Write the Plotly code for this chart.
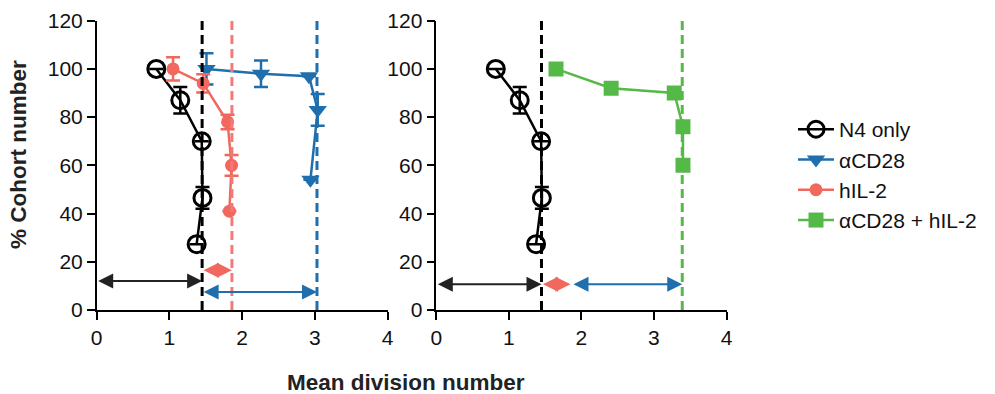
import plotly.graph_objects as go

# ---------------- data ----------------
x_ticks = [0, 1, 2, 3, 4]
y_ticks = [0, 20, 40, 60, 80, 100, 120]

n4_x = [0.82, 1.15, 1.445, 1.455, 1.375]
n4_y = [100, 87, 70, 46.5, 27.3]
n4_err = [None, 5.5, None, 4.5, None]

cd28_x = [1.51, 2.26, 2.92, 3.04, 2.94]
cd28_y = [100, 98, 97, 83, 54]
cd28_err = [6.5, 5.5, None, 6.6, None]

il2_x = [1.05, 1.465, 1.80, 1.855, 1.825]
il2_y = [100, 94, 78, 60, 41]
il2_err = [4.8, 3.8, 3.0, 4.3, None]

combo_x = [1.65, 2.41, 3.28, 3.40, 3.40]
combo_y = [100, 92, 90, 76, 60]

# mean division numbers (dashed lines)
md_n4 = 1.45
md_il2 = 1.86
md_cd28 = 3.03
md_combo = 3.39
md_combo_split = 1.87  # start of blue arrow in right panel

# arrow heights
arrow_y_left = [12, 16.5, 7.5]   # black, pink, blue
arrow_y_right = 10.7

# ---------------- style ----------------
BLACK = "#000000"
BLUE = "#1f6eae"
PINK = "#f0685e"
PINK_LINE = "#f47a7a"
GREEN = "#55b947"
FONT = "Liberation Sans, Arial, Helvetica, sans-serif"

fig = go.Figure()

def err(arr, color):
    return dict(type="data", array=arr, visible=True, color=color,
                thickness=2.5, width=7)

fig.add_trace(go.Scatter(
    x=n4_x, y=n4_y, mode="lines+markers", name="N4 only",
    line=dict(color=BLACK, width=2.5),
    marker=dict(symbol="circle-open", size=17, color=BLACK,
                line=dict(width=3, color=BLACK)),
    error_y=err(n4_err, BLACK), xaxis="x", yaxis="y"))

fig.add_trace(go.Scatter(
    x=cd28_x, y=cd28_y, mode="lines+markers", name="αCD28",
    line=dict(color=BLUE, width=2.5),
    marker=dict(symbol="triangle-down", size=16, color=BLUE),
    error_y=err(cd28_err, BLUE), xaxis="x", yaxis="y"))

fig.add_trace(go.Scatter(
    x=il2_x, y=il2_y, mode="lines+markers", name="hIL-2",
    line=dict(color=PINK, width=2.5),
    marker=dict(symbol="circle", size=13, color=PINK),
    error_y=err(il2_err, PINK), xaxis="x", yaxis="y"))

fig.add_trace(go.Scatter(
    x=n4_x, y=n4_y, mode="lines+markers", name="N4 only",
    showlegend=False,
    line=dict(color=BLACK, width=2.5),
    marker=dict(symbol="circle-open", size=17, color=BLACK,
                line=dict(width=3, color=BLACK)),
    error_y=err(n4_err, BLACK), xaxis="x2", yaxis="y2"))

fig.add_trace(go.Scatter(
    x=combo_x, y=combo_y, mode="lines+markers", name="αCD28 + hIL-2",
    line=dict(color=GREEN, width=2.5),
    marker=dict(symbol="square", size=15, color=GREEN),
    xaxis="x2", yaxis="y2"))

# dashed vertical lines
shapes = []
for xr, yr, xv, col in [("x", "y", md_n4, BLACK), ("x", "y", md_il2, PINK_LINE),
                        ("x", "y", md_cd28, BLUE), ("x2", "y2", md_n4, BLACK),
                        ("x2", "y2", md_combo, GREEN)]:
    shapes.append(dict(type="line", xref=xr, yref=yr, x0=xv, x1=xv, y0=0, y1=120,
                       line=dict(color=col, width=3, dash="9px,5px")))

# double-headed arrows
annotations = []
def arrow(xr, yr, x0, x1, y, col):
    annotations.append(dict(xref=xr, yref=yr, axref=xr, ayref=yr,
                            x=x1, y=y, ax=x0, ay=y, text="", showarrow=True,
                            arrowhead=2, startarrowhead=2, arrowside="end+start",
                            arrowsize=1.5, startarrowsize=1.5, arrowwidth=2,
                            arrowcolor=col, standoff=0, startstandoff=0))

arrow("x", "y", 0, md_n4, arrow_y_left[0], "#222222")
arrow("x", "y", md_n4, md_il2, arrow_y_left[1], PINK)
arrow("x", "y", md_n4, md_cd28, arrow_y_left[2], BLUE)
arrow("x2", "y2", 0, md_n4, arrow_y_right, "#222222")
arrow("x2", "y2", md_n4, md_il2 - 0.01, arrow_y_right, PINK)
arrow("x2", "y2", md_combo_split, md_combo, arrow_y_right, BLUE)

# axis titles
annotations.append(dict(xref="paper", yref="paper", x=18 / 995, y=(394 - 155) / 394,
                        text="<b>% Cohort number</b>", textangle=-90, showarrow=False,
                        font=dict(size=22.5, family=FONT, color="#222222"),
                        xanchor="center", yanchor="middle"))
annotations.append(dict(xref="paper", yref="paper", x=406 / 995, y=(394 - 382) / 394,
                        text="<b>Mean division number</b>", showarrow=False,
                        font=dict(size=22.5, family=FONT, color="#222222"),
                        xanchor="center", yanchor="middle"))

axis_common = dict(showline=True, linecolor=BLACK, linewidth=1.5, ticks="outside",
                   ticklen=8, tickwidth=1.5, tickcolor=BLACK, showgrid=False,
                   zeroline=False, automargin=False,
                   tickfont=dict(size=21, family=FONT, color="#111111"))

y_dom = [(394 - 310) / 394, (394 - 20.7) / 394]

fig.update_layout(
    width=995, height=394,
    margin=dict(l=0, r=0, t=0, b=0, autoexpand=False),
    paper_bgcolor="white", plot_bgcolor="white",
    font=dict(family=FONT, color="#111111"),
    xaxis=dict(domain=[96.7 / 995, 387.5 / 995], range=[0, 4], tickvals=x_ticks,
               anchor="y", **axis_common),
    yaxis=dict(domain=y_dom, range=[0, 120], tickvals=y_ticks, anchor="x", **axis_common),
    xaxis2=dict(domain=[436.3 / 995, 726.5 / 995], range=[0, 4], tickvals=x_ticks,
                anchor="y2", **axis_common),
    yaxis2=dict(domain=y_dom, range=[0, 120], tickvals=y_ticks, anchor="x2", **axis_common),
    shapes=shapes,
    annotations=annotations,
    showlegend=True,
    legend=dict(x=793 / 995, y=(394 - 109) / 394, xanchor="left", yanchor="top",
                font=dict(size=21, family=FONT, color="#111111"),
                bgcolor="rgba(0,0,0,0)", tracegroupgap=0, itemwidth=36),
)

fig.write_html("out.html")
